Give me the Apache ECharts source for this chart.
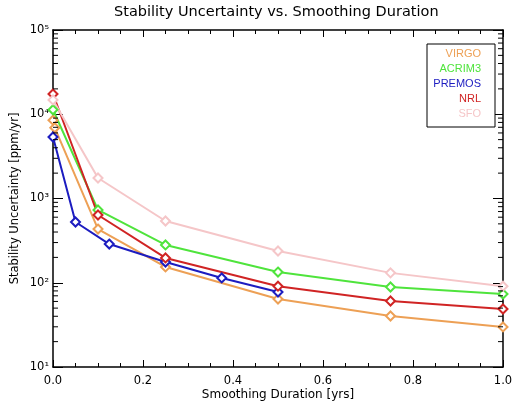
<!DOCTYPE html>
<html><head><meta charset="utf-8">
<script src="https://cdn.jsdelivr.net/npm/echarts@6/dist/echarts.min.js"></script>
<style>html,body{margin:0;padding:0;background:#fff}#c{width:512px;height:402px}</style>
</head><body><div id="c"></div>
<script>
// ---- data ----
const seriesNames = ['VIRGO', 'ACRIM3', 'PREMOS', 'NRL', 'SFO'];
const virgoX  = [0, 0.004, 0.1, 0.25, 0.5, 0.75, 1.0];
const virgoY  = [8500, 6900, 434, 154, 64, 40.3, 29.9];
const acrimX  = [0, 0.1, 0.25, 0.5, 0.75, 1.0];
const acrimY  = [11300, 731, 281, 134, 89, 73.5];
const premosX = [0, 0.05, 0.125, 0.25, 0.375, 0.5];
const premosY = [5370, 526, 288, 176, 114, 77.6];
const nrlX    = [0, 0.1, 0.25, 0.5, 0.75, 1.0];
const nrlY    = [17400, 637, 197, 91, 60.7, 48.8];
const sfoX    = [0, 0.1, 0.25, 0.5, 0.75, 1.0];
const sfoY    = [14800, 1750, 541, 238, 131, 91];
const yTickValues = [10, 100, 1000, 10000, 100000];
const yTickLabels = ['10\u00B9', '10\u00B2', '10\u00B3', '10\u2074', '10\u2075'];
const yMinorMultipliers = [2, 3, 4, 5, 6, 7, 8, 9];

// ---- styles ----
const colors = ['#eda055', '#4fe43c', '#1c1cc0', '#d02424', '#f5c6c8'];
const font = 'DejaVu Sans';
const legendFont = 'Liberation Sans';

const seriesX = [virgoX, acrimX, premosX, nrlX, sfoX];
const seriesY = [virgoY, acrimY, premosY, nrlY, sfoY];

const minorVals = [];
for (let k = 0; k < yTickValues.length - 1; k++) {
  yMinorMultipliers.forEach(m => minorVals.push([0, m * yTickValues[k]]));
}

const chart = echarts.init(document.getElementById('c'), null, {renderer: 'canvas'});

const lineSeries = seriesNames.map((name, i) => ({
  name: name,
  type: 'line',
  xAxisIndex: 0, yAxisIndex: 0,
  data: seriesX[i].map((x, j) => [x, seriesY[i][j]]),
  symbol: 'emptyDiamond',
  symbolSize: 9,
  showAllSymbol: true,
  lineStyle: {color: colors[i], width: 2},
  itemStyle: {color: colors[i], borderColor: colors[i], borderWidth: 1.6},
  emphasis: {disabled: true},
  animation: false,
  z: 3
}));

const minorTickSeries = {
  type: 'custom',
  xAxisIndex: 0, yAxisIndex: 0,
  data: minorVals,
  encode: {x: 0, y: 1},
  silent: true,
  clip: false,
  z: 5,
  animation: false,
  renderItem: function (params, api) {
    const p = api.coord([0, api.value(1)]);
    const cs = params.coordSys;
    const y = p[1];
    return {
      type: 'group',
      children: [
        {type: 'line', shape: {x1: cs.x, y1: y, x2: cs.x + 5, y2: y}, style: {stroke: '#000', lineWidth: 1}},
        {type: 'line', shape: {x1: cs.x + cs.width, y1: y, x2: cs.x + cs.width - 5, y2: y}, style: {stroke: '#000', lineWidth: 1}}
      ]
    };
  }
};

function yLabel(v) {
  const idx = yTickValues.findIndex(t => Math.abs(t - v) / t < 1e-6);
  return idx >= 0 ? yTickLabels[idx] : '';
}

const axisLine = {show: true, onZero: false, lineStyle: {color: '#000', width: 1.5}};

chart.setOption({
  backgroundColor: '#fff',
  animation: false,
  title: {
    text: 'Stability Uncertainty vs. Smoothing Duration',
    left: 114,
    top: 5,
    padding: 0,
    textStyle: {fontFamily: font, fontSize: 14.5, fontWeight: 'normal', color: '#000'}
  },
  grid: {left: 53, right: 9, top: 30, bottom: 35, containLabel: false, outerBoundsMode: 'none'},
  xAxis: [{
    type: 'value', min: 0, max: 1, interval: 0.2,
    position: 'bottom',
    name: 'Smoothing Duration [yrs]', nameLocation: 'middle', nameGap: 22, nameMoveOverlap: false,
    nameTextStyle: {fontFamily: font, fontSize: 12, color: '#000'},
    axisLine: axisLine,
    axisTick: {show: true, inside: true, length: 7, lineStyle: {color: '#000', width: 1}},
    minorTick: {show: true, splitNumber: 4, length: 4, lineStyle: {color: '#000', width: 1}},
    axisLabel: {fontFamily: font, fontSize: 11.5, color: '#000', margin: 8, formatter: v => v.toFixed(1)},
    splitLine: {show: false}
  }, {
    type: 'value', min: 0, max: 1, interval: 0.2,
    position: 'top',
    axisLine: axisLine,
    axisTick: {show: true, inside: true, length: 7, lineStyle: {color: '#000', width: 1}},
    minorTick: {show: true, splitNumber: 4, length: 4, lineStyle: {color: '#000', width: 1}},
    axisLabel: {show: false},
    splitLine: {show: false}
  }],
  yAxis: [{
    type: 'log', logBase: 10, min: 10, max: 100000,
    position: 'left',
    name: 'Stability Uncertainty [ppm/yr]', nameLocation: 'middle', nameGap: 32, nameMoveOverlap: false,
    nameTextStyle: {fontFamily: font, fontSize: 11.5, color: '#000'},
    axisLine: axisLine,
    axisTick: {show: true, inside: true, length: 10, lineStyle: {color: '#000', width: 1}},
    axisLabel: {fontFamily: font, fontSize: 11.5, color: '#000', margin: 4, formatter: yLabel},
    splitLine: {show: false}
  }, {
    type: 'log', logBase: 10, min: 10, max: 100000,
    position: 'right',
    axisLine: axisLine,
    axisTick: {show: true, inside: true, length: 10, lineStyle: {color: '#000', width: 1}},
    axisLabel: {show: false},
    splitLine: {show: false}
  }],
  graphic: [
    {type: 'rect', x: 427, y: 44, shape: {x: 0, y: 0, width: 68, height: 83}, style: {fill: '#fff', stroke: '#000', lineWidth: 1}, z: 10}
  ].concat(seriesNames.map((n, i) => ({
    type: 'text',
    x: 481, y: 54 + i * 15,
    z: 11,
    style: {text: n, fill: colors[i], font: '11px "' + legendFont + '"', align: 'right', verticalAlign: 'middle'}
  }))),
  series: lineSeries.concat([minorTickSeries])
});
</script></body></html>
